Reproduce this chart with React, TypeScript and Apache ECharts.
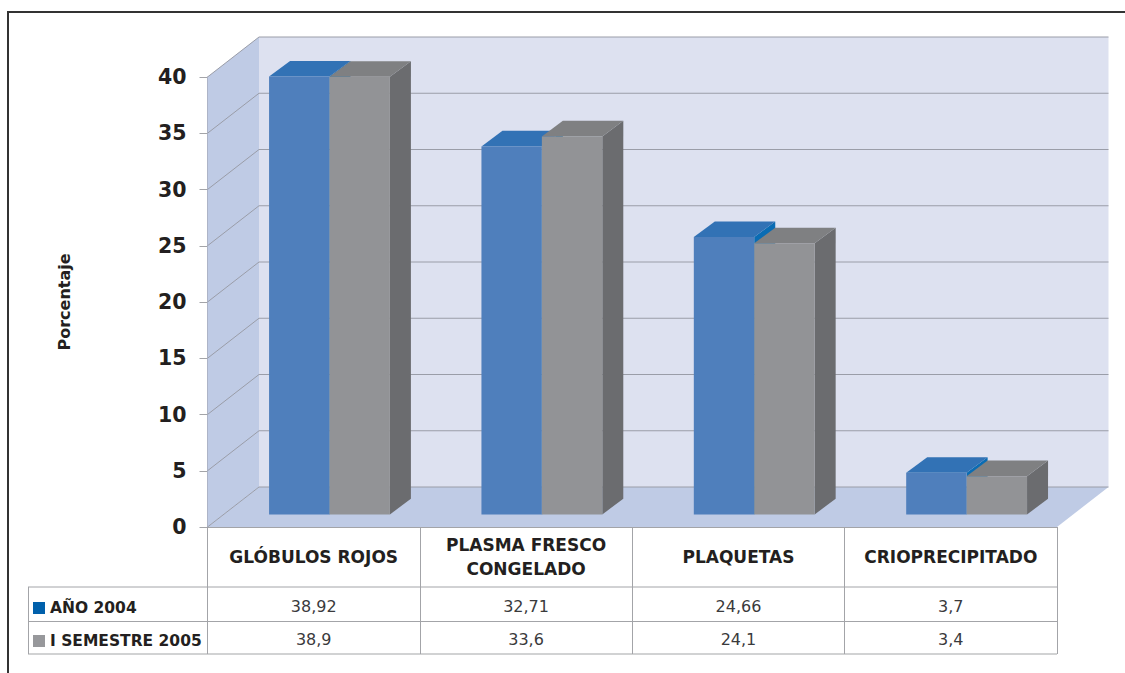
import React, { useEffect, useRef } from "react";
import * as echarts from "echarts";

const categories = ["GLÓBULOS ROJOS", "PLASMA FRESCO\nCONGELADO", "PLAQUETAS", "CRIOPRECIPITADO"];
const seriesNames = ["AÑO 2004", "I SEMESTRE 2005"];
const values2004 = [38.92, 32.71, 24.66, 3.7];
const values2005 = [38.9, 33.6, 24.1, 3.4];
const labels2004 = ["38,92", "32,71", "24,66", "3,7"];
const labels2005 = ["38,9", "33,6", "24,1", "3,4"];
const ticks = [0, 5, 10, 15, 20, 25, 30, 35, 40];

const FONT = "DejaVu Sans";
const INK = "#231f20";
const GL = { left: 207.5, top: 77, width: 849.5, height: 450 };
const WALL_DX = 51.5, WALL_DY = 40;
const BAR_DX = 15.8, BAR_DY = 12.6;
const SIDE_DX = 21, SIDE_DY = 15.6;
const ROW1 = 587, ROW2 = 621.5, ROW3 = 654;
const LINE = "#a3a4a8";

function wallsItem(params: any) {
  const c = params.coordSys;
  const l = c.x, r = c.x + c.width, t = c.y, b = c.y + c.height;
  const poly = (points: number[][], fill: string, stroke = "none") => ({
    type: "polygon",
    shape: { points },
    style: { fill, stroke, lineWidth: 1 },
  });
  return {
    type: "group",
    children: [
      poly([[l + WALL_DX, t - WALL_DY], [r + WALL_DX, t - WALL_DY], [r + WALL_DX, b - WALL_DY], [l + WALL_DX, b - WALL_DY]], "#dde1f0"),
      poly([[l, t], [l + WALL_DX, t - WALL_DY], [l + WALL_DX, b - WALL_DY], [l, b]], "#bfcbe5"),
      poly([[l, b], [l + WALL_DX, b - WALL_DY], [r + WALL_DX, b - WALL_DY], [r, b]], "#bfcbe5"),
    ],
  };
}

function gridItem(params: any, api: any) {
  const c = params.coordSys;
  const y = api.coord([0, api.value(1)])[1];
  const l = c.x, r = c.x + c.width;
  return {
    type: "polyline",
    shape: { points: [[l, y], [l + WALL_DX, y - WALL_DY], [r + WALL_DX, y - WALL_DY]] },
    style: { fill: "none", stroke: "#9a9da8", lineWidth: 1 },
  };
}

function barItem(seriesIdx: number, front: string, top: string, side: string) {
  return (params: any, api: any) => {
    const cat = api.value(0);
    const p0 = api.coord([cat, 0]);
    const p1 = api.coord([cat, api.value(1)]);
    const w = api.size([1, 0])[0] * 0.2845;
    const xl = p0[0] + BAR_DX + (seriesIdx === 0 ? -w : 0);
    const xr = xl + w;
    const yb = p0[1] - BAR_DY;
    const yt = p1[1] - BAR_DY;
    return {
      type: "group",
      children: [
        { type: "polygon", shape: { points: [[xr, yb], [xr + SIDE_DX, yb - SIDE_DY], [xr + SIDE_DX, yt - SIDE_DY], [xr, yt]] }, style: { fill: side } },
        { type: "polygon", shape: { points: [[xl, yt], [xl + SIDE_DX, yt - SIDE_DY], [xr + SIDE_DX, yt - SIDE_DY], [xr, yt]] }, style: { fill: top } },
        { type: "rect", shape: { x: xl, y: yt, width: w, height: yb - yt }, style: { fill: front } },
      ],
    };
  };
}

export default function App() {
  const ref = useRef<HTMLDivElement>(null);
  useEffect(() => {
    const chart = echarts.init(ref.current!, undefined, { renderer: "svg" });
    const cellW = GL.width / categories.length;
    const cellTexts = (labels: string[], y: number) =>
      labels.map((t, i) => ({
        type: "text",
        x: GL.left + cellW * (i + 0.5),
        y,
        style: { text: t, font: `16px "${FONT}"`, fill: "#3a3a3c", textAlign: "center", textVerticalAlign: "middle" },
        silent: true,
      }));
    const hline = (x1: number, x2: number, y: number, stroke = LINE, lineWidth = 1) => ({
      type: "line",
      shape: { x1, y1: y, x2, y2: y },
      style: { stroke, lineWidth },
      silent: true,
    });
    chart.setOption({
      animation: false,
      backgroundColor: "#ffffff",
      grid: { ...GL, containLabel: false },
      legend: {
        data: seriesNames,
        orient: "vertical",
        left: 33,
        top: 600,
        itemWidth: 12,
        itemHeight: 12,
        itemGap: 17,
        icon: "rect",
        selectedMode: false,
        textStyle: { fontFamily: FONT, fontWeight: "bold", fontSize: 15.5, color: INK },
        padding: 0,
      },
      xAxis: {
        type: "category",
        data: categories,
        axisLine: { show: true, lineStyle: { color: LINE, width: 1 } },
        axisTick: { show: true, length: 127, lineStyle: { color: LINE, width: 1 } },
        axisLabel: {
          interval: 0,
          margin: 30,
          verticalAlign: "middle",
          fontFamily: FONT,
          fontWeight: "bold",
          fontSize: 17,
          lineHeight: 24,
          color: INK,
        },
        splitLine: { show: false },
      },
      yAxis: {
        type: "value",
        min: 0,
        max: 40,
        interval: 5,
        name: "Porcentaje",
        nameLocation: "middle",
        nameRotate: 90,
        nameGap: 135,
        nameTextStyle: { fontFamily: FONT, fontWeight: "bold", fontSize: 16, color: INK },
        axisLine: { show: true, lineStyle: { color: "#9a9da8", width: 1 } },
        axisTick: { show: true, length: 8, lineStyle: { color: LINE, width: 1 } },
        axisLabel: { margin: 21, fontFamily: FONT, fontWeight: "bold", fontSize: 20.5, color: INK },
        splitLine: { show: false },
      },
      series: [
        { type: "custom", name: "walls", z: 1, silent: true, renderItem: wallsItem, data: [[0, 0]], encode: { x: 0, y: 1 } },
        { type: "custom", name: "grid", z: 2, silent: true, renderItem: gridItem, data: ticks.map((t) => [0, t]), encode: { x: 0, y: 1 } },
        {
          type: "custom",
          name: seriesNames[0],
          z: 3,
          itemStyle: { color: "#0060ab" },
          renderItem: barItem(0, "#4f7fbc", "#3272b5", "#0a6cb3"),
          data: values2004.map((v, i) => [i, v]),
          encode: { x: 0, y: 1 },
        },
        {
          type: "custom",
          name: seriesNames[1],
          z: 4,
          itemStyle: { color: "#97989b" },
          renderItem: barItem(1, "#929396", "#7f8082", "#6b6c6f"),
          data: values2005.map((v, i) => [i, v]),
          encode: { x: 0, y: 1 },
        },
      ],
      graphic: [
        { type: "polyline", shape: { points: [[8, 673], [8, 12], [1125, 12]] }, style: { fill: "none", stroke: "#333333", lineWidth: 2 }, silent: true },
        hline(28, GL.left + GL.width, ROW1),
        hline(28, GL.left + GL.width, ROW2),
        hline(28, GL.left + GL.width, ROW3, "#c2c3c5", 1.5),
        { type: "line", shape: { x1: 28.5, y1: ROW1, x2: 28.5, y2: ROW3 }, style: { stroke: LINE, lineWidth: 1 }, silent: true },
        ...cellTexts(labels2004, 606),
        ...cellTexts(labels2005, 639),
      ],
    });
    return () => chart.dispose();
  }, []);
  return <div ref={ref} style={{ position: "absolute", left: 0, top: 0, width: 1125, height: 673 }} />;
}
